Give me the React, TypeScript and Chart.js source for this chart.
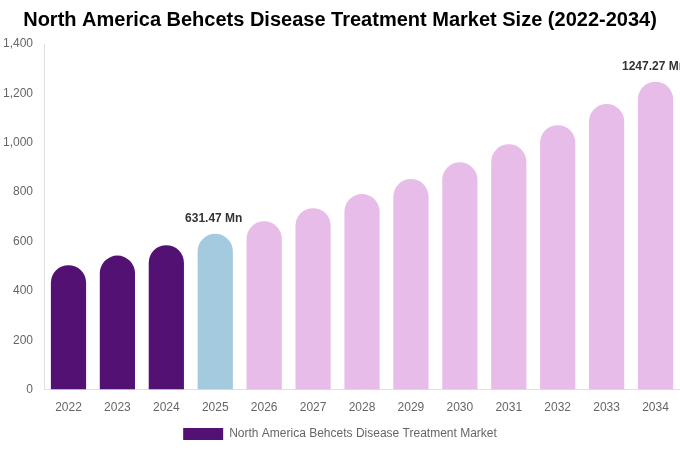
import React, { useRef, useEffect } from 'react';
import Chart from 'chart.js/auto';

const years = ['2022', '2023', '2024', '2025', '2026', '2027', '2028', '2029', '2030', '2031', '2032', '2033', '2034'];
const marketSize = [504, 543, 585, 631.47, 682, 735, 792, 853, 921, 994, 1071, 1157, 1247.27];
const barColors = [
  '#541174', '#541174', '#541174',
  '#a4cadf',
  '#e8bce9', '#e8bce9', '#e8bce9', '#e8bce9', '#e8bce9', '#e8bce9', '#e8bce9', '#e8bce9', '#e8bce9',
];
const labelledBars = [3, 12];

const valueLabels = {
  id: 'valueLabels',
  afterDatasetsDraw(chart) {
    const ctx = chart.ctx;
    const meta = chart.getDatasetMeta(0);
    ctx.save();
    ctx.font = 'bold 12px "Liberation Sans", Arial, sans-serif';
    ctx.fillStyle = '#333333';
    ctx.textAlign = 'center';
    ctx.textBaseline = 'middle';
    labelledBars.forEach((i) => {
      const bar = meta.data[i];
      ctx.fillText(marketSize[i].toFixed(2) + ' Mn', bar.x - 1.5, bar.y - 15);
    });
    ctx.restore();
  },
};

const App = () => {
  const canvasRef = useRef(null);
  const chartRef = useRef(null);

  useEffect(() => {
    if (canvasRef.current) {
      chartRef.current = new Chart(canvasRef.current, {
        type: 'bar',
        data: {
          labels: years,
          datasets: [{
            label: 'North America Behcets Disease Treatment Market',
            data: marketSize,
            backgroundColor: barColors,
            borderWidth: 0,
            borderRadius: { topLeft: 40, topRight: 40, bottomLeft: 0, bottomRight: 0 },
            borderSkipped: false,
            categoryPercentage: 0.8,
            barPercentage: 0.9,
          }],
        },
        options: {
          animation: false,
          responsive: true,
          maintainAspectRatio: false,
          layout: { padding: { left: 0, right: 0, top: 0, bottom: 0 } },
          scales: {
            x: {
              grid: { display: false },
              border: { display: true, color: '#e0e0e0' },
              ticks: { color: '#666666', font: { size: 12, family: '"Liberation Sans", Arial, sans-serif' } },
            },
            y: {
              min: 0,
              max: 1400,
              grid: { display: false },
              border: { display: true, color: '#e0e0e0' },
              ticks: {
                stepSize: 200,
                color: '#666666',
                font: { size: 12, family: '"Liberation Sans", Arial, sans-serif' },
              },
            },
          },
          plugins: {
            title: {
              display: true,
              text: 'North America Behcets Disease Treatment Market Size (2022-2034)',
              color: '#000000',
              font: { size: 20, weight: 'bold', family: '"Liberation Sans", Arial, sans-serif' },
              padding: { top: 8, bottom: 12 },
            },
            legend: {
              position: 'bottom',
              labels: {
                boxWidth: 40,
                boxHeight: 12,
                color: '#666666',
                font: { size: 12, family: '"Liberation Sans", Arial, sans-serif' },
              },
            },
            tooltip: { enabled: false },
          },
        },
        plugins: [valueLabels],
      });
    }
    return () => {
      if (chartRef.current) {
        chartRef.current.destroy();
      }
    };
  }, []);

  return (
    <div style={{ position: 'fixed', left: 0, top: 0, width: 680, height: 450 }}>
      <canvas ref={canvasRef}></canvas>
    </div>
  );
};

export default App;
